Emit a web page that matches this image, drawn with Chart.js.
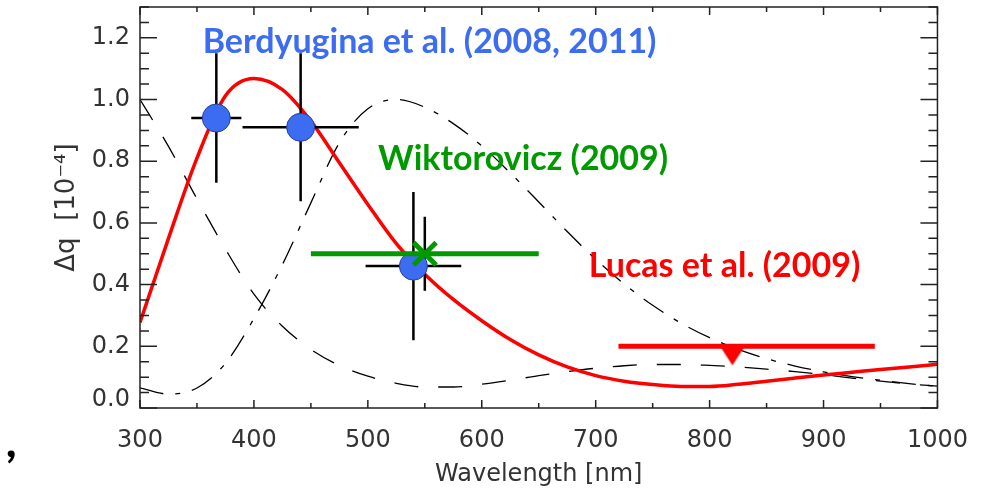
<!DOCTYPE html>
<html lang="en">
<head>
  <meta charset="UTF-8" />
  <title>Polarization vs wavelength</title>
  <style>
    body { margin: 0; background: #fff; }
    canvas { display: block; }
  </style>
</head>
<body>
  <canvas id="polChart" width="986" height="489"></canvas>
  <script src="https://cdn.jsdelivr.net/npm/chart.js"></script>
  <script>
    // model curves, sampled every 25 nm
    const wavelengths = [300, 325, 350, 375, 400, 425, 450, 475, 500, 525, 550, 575, 600, 625, 650,
                         675, 700, 725, 750, 775, 800, 825, 850, 875, 900, 925, 950, 975, 1000];
    const modelFit    = [0.277, 0.55, 0.81, 1.012, 1.068, 1.032, 0.93, 0.795, 0.66, 0.533, 0.434, 0.352, 0.283, 0.222, 0.172,
                         0.133, 0.105, 0.087, 0.076, 0.07, 0.07, 0.077, 0.087, 0.097, 0.107, 0.116, 0.125, 0.133, 0.142];
    const dashedModel = [1.0, 0.848, 0.678, 0.515, 0.369, 0.265, 0.19, 0.138, 0.103, 0.08, 0.068, 0.068, 0.077, 0.09, 0.105,
                         0.118, 0.129, 0.137, 0.141, 0.141, 0.138, 0.133, 0.126, 0.118, 0.108, 0.097, 0.087, 0.078, 0.071];
    const dashDotModel = [0.065, 0.045, 0.065, 0.145, 0.29, 0.465, 0.665, 0.86, 0.97, 1.0, 0.975, 0.922, 0.85, 0.762, 0.668,
                          0.572, 0.482, 0.402, 0.333, 0.275, 0.228, 0.19, 0.16, 0.136, 0.117, 0.102, 0.09, 0.079, 0.07];

    // Berdyugina et al. (2008, 2011)
    const berdX    = [367, 441, 540];
    const berdY    = [0.94, 0.91, 0.46];
    const berdXErr = [22, 51, 42];
    const berdYErr = [0.21, 0.24, 0.24];

    // Wiktorovicz (2009)
    const wikX    = [550];
    const wikY    = [0.50];
    const wikXErr = [100];
    const wikYErr = [0.12];

    // Lucas et al. (2009) upper limit
    const lucasX   = [820];
    const lucasY   = [0.20];
    const lucasXLo = [720];
    const lucasXHi = [945];

    const xTicks = [300, 400, 500, 600, 700, 800, 900, 1000];
    const yTicks = [0, 0.2, 0.4, 0.6, 0.8, 1.0, 1.2];

    const blue = '#3b6cf2';
    const green = '#009a00';
    const red = '#ff0000';

    const curve = (ys) => wavelengths.map((w, i) => ({ x: w, y: ys[i] }));

    // downward triangle marking the upper limit
    const tri = document.createElement('canvas');
    tri.width = 28;
    tri.height = 40;
    const t = tri.getContext('2d');
    t.fillStyle = red;
    t.beginPath();
    t.moveTo(1, 19);
    t.lineTo(27, 19);
    t.lineTo(14, 39);
    t.closePath();
    t.fill();

    // black error bars, drawn just before the blue circles
    const errorBars = {
      id: 'errorBars',
      beforeDatasetDraw(chart, args) {
        if (args.meta.label !== 'Berdyugina') return;
        const { ctx, scales: { x, y } } = chart;
        ctx.save();
        ctx.strokeStyle = '#000';
        ctx.lineWidth = 2.5;
        ctx.beginPath();
        berdX.forEach((bx, i) => {
          const px = x.getPixelForValue(bx), py = y.getPixelForValue(berdY[i]);
          ctx.moveTo(x.getPixelForValue(bx - berdXErr[i]), py);
          ctx.lineTo(x.getPixelForValue(bx + berdXErr[i]), py);
          ctx.moveTo(px, y.getPixelForValue(berdY[i] + berdYErr[i]));
          ctx.lineTo(px, y.getPixelForValue(berdY[i] - berdYErr[i]));
        });
        wikX.forEach((wx, i) => {
          const px = x.getPixelForValue(wx);
          ctx.moveTo(px, y.getPixelForValue(wikY[i] + wikYErr[i]));
          ctx.lineTo(px, y.getPixelForValue(wikY[i] - wikYErr[i]));
        });
        ctx.stroke();
        ctx.restore();
      }
    };

    // box with inward major/minor ticks on all four sides, plus the y tick labels
    const frame = {
      id: 'frame',
      afterDatasetsDraw(chart) {
        const { ctx, chartArea: a, scales: { x, y } } = chart;
        ctx.save();
        ctx.strokeStyle = '#222';
        ctx.lineWidth = 1.5;
        ctx.strokeRect(a.left, a.top, a.right - a.left, a.bottom - a.top);
        ctx.beginPath();
        for (let i = 0; i <= 14; i++) {
          const px = x.getPixelForValue(300 + i * 50);
          const len = i % 2 === 0 ? 8 : 5;
          ctx.moveTo(px, a.bottom); ctx.lineTo(px, a.bottom - len);
          ctx.moveTo(px, a.top); ctx.lineTo(px, a.top + len);
        }
        for (let i = 0; i <= 26; i++) {
          const py = y.getPixelForValue(i * 0.05);
          const len = i % 4 === 0 ? 17 : 9;
          ctx.moveTo(a.left, py); ctx.lineTo(a.left + len, py);
          ctx.moveTo(a.right, py); ctx.lineTo(a.right - len, py);
        }
        ctx.stroke();

        ctx.fillStyle = '#333';
        ctx.font = '24px "DejaVu Sans", sans-serif';
        ctx.textAlign = 'right';
        ctx.textBaseline = 'middle';
        yTicks.forEach(v => {
          // the 0.0 label sits a little above the bottom axis
          const lift = v === 0 ? 8 : 0;
          ctx.fillText(v.toFixed(1), a.left - 10, y.getPixelForValue(v) - lift);
        });
        ctx.restore();
      }
    };

    // source labels placed in data units
    const labels = {
      id: 'labels',
      afterDraw(chart) {
        const { ctx, scales: { x, y } } = chart;
        const items = [
          { text: 'Berdyugina et al. (2008, 2011)', color: blue, at: [355, 1.151] },
          { text: 'Wiktorovicz (2009)', color: green, at: [509, 0.772] },
          { text: 'Lucas et al. (2009)', color: red, at: [694, 0.426] }
        ];
        ctx.save();
        ctx.font = 'bold 34px Lato, "Open Sans", sans-serif';
        ctx.textAlign = 'left';
        ctx.textBaseline = 'alphabetic';
        items.forEach(it => {
          ctx.fillStyle = it.color;
          ctx.fillText(it.text, x.getPixelForValue(it.at[0]), y.getPixelForValue(it.at[1]));
        });
        ctx.fillStyle = '#000';
        ctx.font = '900 44px Lato, "Open Sans", sans-serif';
        ctx.fillText(',', 6, 457);
        ctx.restore();
      }
    };

    const axisFont = { family: '"DejaVu Sans", sans-serif', size: 24 };

    new Chart(document.getElementById('polChart').getContext('2d'), {
      type: 'line',
      data: {
        datasets: [
          {
            type: 'scatter', label: 'Wiktorovicz',
            data: wikX.map((v, i) => ({ x: v, y: wikY[i] })),
            pointStyle: 'crossRot', pointRadius: 16, borderColor: green, borderWidth: 5
          },
          {
            label: 'Wiktorovicz range',
            data: [{ x: wikX[0] - wikXErr[0], y: wikY[0] }, { x: wikX[0] + wikXErr[0], y: wikY[0] }],
            borderColor: green, borderWidth: 5, pointRadius: 0
          },
          {
            type: 'scatter', label: 'Berdyugina',
            data: berdX.map((v, i) => ({ x: v, y: berdY[i] })),
            pointRadius: 14, backgroundColor: blue, borderColor: '#28409a', borderWidth: 1
          },
          {
            type: 'scatter', label: 'Lucas',
            data: lucasX.map((v, i) => ({ x: v, y: lucasY[i] })),
            pointStyle: tri
          },
          {
            label: 'Lucas range',
            data: [{ x: lucasXLo[0], y: lucasY[0] }, { x: lucasXHi[0], y: lucasY[0] }],
            borderColor: red, borderWidth: 5, pointRadius: 0
          },
          {
            label: 'Model',
            data: curve(modelFit),
            borderColor: red, borderWidth: 3.5, pointRadius: 0, cubicInterpolationMode: 'monotone'
          },
          {
            label: 'Dashed',
            data: curve(dashedModel),
            borderColor: '#000', borderWidth: 1.3, borderDash: [24, 20], pointRadius: 0, cubicInterpolationMode: 'monotone'
          },
          {
            label: 'Dash-dot',
            data: curve(dashDotModel),
            borderColor: '#000', borderWidth: 1.3, borderDash: [24, 12, 5, 12], pointRadius: 0, cubicInterpolationMode: 'monotone'
          }
        ]
      },
      options: {
        responsive: false,
        animation: false,
        events: [],
        // big markers would otherwise push the plot area down
        layout: { autoPadding: false, padding: { top: 7, right: 48, bottom: 0, left: 0 } },
        plugins: { legend: { display: false }, tooltip: { enabled: false } },
        scales: {
          x: {
            type: 'linear', min: 300, max: 1000,
            grid: { display: false, drawTicks: false },
            border: { display: false },
            afterBuildTicks: s => { s.ticks = xTicks.map(v => ({ value: v })); },
            afterFit: s => { s.height = 81; },
            ticks: { font: axisFont, color: '#333', padding: 18, callback: v => String(v) },
            title: {
              display: true, text: 'Wavelength [nm]', color: '#333',
              font: axisFont, padding: { top: 0, bottom: 0 }
            }
          },
          y: {
            min: 0, max: 1.3,
            grid: { display: false, drawTicks: false },
            border: { display: false },
            afterBuildTicks: s => { s.ticks = yTicks.map(v => ({ value: v })); },
            afterFit: s => { s.width = 140; },
            ticks: { display: false },
            title: {
              display: true, text: 'Δq  [10⁻⁴]', color: '#333',
              font: { family: '"DejaVu Sans", sans-serif', size: 26 }, padding: { top: 52, bottom: 0 }
            }
          }
        }
      },
      plugins: [errorBars, frame, labels]
    });
  </script>
</body>
</html>
